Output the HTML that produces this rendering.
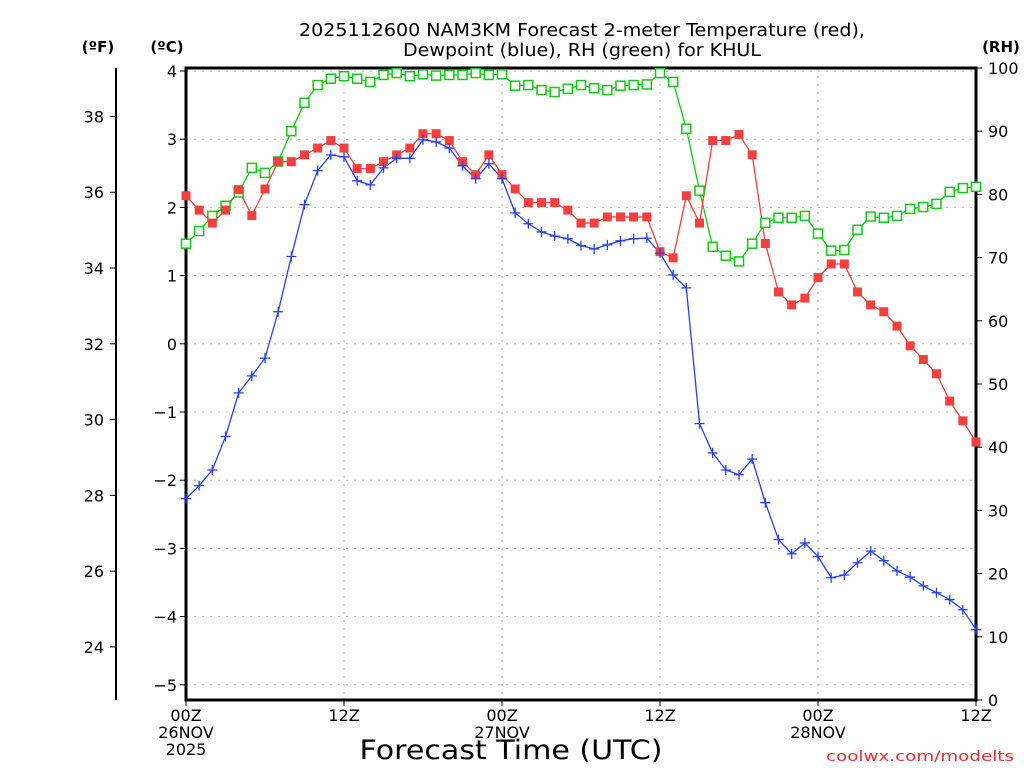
<!DOCTYPE html>
<html><head><meta charset="utf-8"><style>
html,body{margin:0;padding:0;background:#fff}
svg{display:block;font-family:"DejaVu Sans","Liberation Sans",sans-serif}
</style></head><body>
<svg id="chart" width="1024" height="768" viewBox="0 0 1024 768">
<text x="582" y="36" text-anchor="middle" font-size="18" textLength="566" lengthAdjust="spacingAndGlyphs">2025112600 NAM3KM Forecast 2-meter Temperature (red),</text>
<text x="582" y="56" text-anchor="middle" font-size="18" textLength="358" lengthAdjust="spacingAndGlyphs">Dewpoint (blue), RH (green) for KHUL</text>
<text x="98" y="52" text-anchor="middle" font-size="15" font-weight="bold">(ºF)</text>
<text x="167" y="52" text-anchor="middle" font-size="15" font-weight="bold">(ºC)</text>
<text x="1001" y="52" text-anchor="middle" font-size="15" font-weight="bold">(RH)</text>
<g id="grid"></g>
<g id="axes"></g>
<g id="series"></g>
<text x="511" y="759" text-anchor="middle" font-size="27" textLength="303" lengthAdjust="spacingAndGlyphs">Forecast Time (UTC)</text>
<text x="1014" y="761" text-anchor="end" font-size="14" fill="#e83030" textLength="188" lengthAdjust="spacingAndGlyphs">coolwx.com/modelts</text>
</svg>
<script>
const hours=[0,1,2,3,4,5,6,7,8,9,10,11,12,13,14,15,16,17,18,19,20,21,22,23,24,25,26,27,28,29,30,31,32,33,34,35,36,37,38,39,40,41,42,43,44,45,46,47,48,49,50,51,52,53,54,55,56,57,58,59,60];
const tempC=[2.17,1.96,1.77,1.96,2.26,1.88,2.27,2.67,2.67,2.77,2.87,2.98,2.87,2.57,2.57,2.67,2.77,2.87,3.08,3.08,2.98,2.67,2.48,2.77,2.48,2.27,2.07,2.07,2.07,1.96,1.77,1.77,1.86,1.86,1.86,1.86,1.35,1.26,2.17,1.77,2.98,2.98,3.07,2.77,1.47,0.76,0.57,0.67,0.97,1.17,1.17,0.76,0.57,0.47,0.26,-0.03,-0.23,-0.44,-0.84,-1.13,-1.44];
const dewC=[-2.27,-2.08,-1.85,-1.36,-0.72,-0.47,-0.21,0.47,1.28,2.04,2.54,2.77,2.74,2.39,2.33,2.58,2.72,2.72,2.99,2.96,2.87,2.61,2.42,2.64,2.42,1.92,1.76,1.64,1.58,1.54,1.44,1.39,1.45,1.51,1.54,1.55,1.33,1.01,0.82,-1.17,-1.6,-1.85,-1.92,-1.69,-2.33,-2.87,-3.08,-2.92,-3.12,-3.43,-3.39,-3.21,-3.04,-3.18,-3.33,-3.42,-3.55,-3.65,-3.75,-3.9,-4.19];
const rh=[72.2,74.2,76.6,78.2,80.3,84.2,83.4,85.2,90.0,94.5,97.3,98.3,98.7,98.3,97.8,98.9,99.2,98.7,99,98.8,98.9,98.9,99.2,98.9,99,97.2,97.3,96.5,96.2,96.7,97.3,96.8,96.5,97.2,97.3,97.4,99.2,97.8,90.4,80.6,71.7,70.3,69.4,72.2,75.5,76.3,76.3,76.6,73.8,71.1,71.2,74.4,76.5,76.3,76.6,77.7,78,78.5,80.4,81,81.2];
const cTicks=[4,3,2,1,0,-1,-2,-3,-4,-5];
const fTicks=[38,36,34,32,30,28,26,24];
const rhTicks=[100,90,80,70,60,50,40,30,20,10,0];
const xTicks=[0,12,24,36,48,60];
const xLabels=[["00Z","26NOV","2025"],["12Z"],["00Z","27NOV"],["12Z"],["00Z","28NOV"],["12Z"]];

const L=186,R=976,T=68,B=700;
const x=h=>L+(R-L)*h/60;
const yC=c=>71+(4-c)*68.2;
const yF=f=>yC((f-32)*5/9);
const yR=r=>B-(B-T)*r/100;
const NS="http://www.w3.org/2000/svg";
function mk(tag,attrs,parent){const e=document.createElementNS(NS,tag);for(const k in attrs)e.setAttribute(k,attrs[k]);parent.appendChild(e);return e;}
const grid=document.getElementById('grid'),axes=document.getElementById('axes'),ser=document.getElementById('series');

cTicks.forEach(c=>{
 const g=mk('line',{x1:L,x2:R,y1:yC(c),y2:yC(c),stroke:'#b0b0b0','stroke-dasharray':'2,6'},grid);
 
 
 const t=mk('line',{x1:L-6,x2:L,y1:yC(c),y2:yC(c),stroke:'#000'},axes);
 
 
 const tx=mk('text',{x:L-9,y:yC(c)+6,'text-anchor':'end','font-size':'16'},axes);
 tx.textContent=c<0?'\u2212'+(-c):String(c);
 
 
});
xTicks.forEach((h,i)=>{
 if(h>0&&h<60){const g=mk('line',{x1:x(h),x2:x(h),y1:T,y2:B,stroke:'#b0b0b0','stroke-dasharray':'2,6'},grid);
 
 }
 const t=mk('line',{x1:x(h),x2:x(h),y1:B,y2:B+6,stroke:'#000'},axes);
 
 
 xLabels[i].forEach((s,j)=>{const tx=mk('text',{x:x(h),y:B+21+j*17,'text-anchor':'middle','font-size':'16'},axes);tx.textContent=s;
 
 });
});
mk('line',{x1:116,x2:116,y1:T,y2:B,stroke:'#000','stroke-width':2},axes);
fTicks.forEach(f=>{
 const t=mk('line',{x1:110,x2:116,y1:yF(f),y2:yF(f),stroke:'#000'},axes);
 
 
 const tx=mk('text',{x:104,y:yF(f)+6,'text-anchor':'end','font-size':'16'},axes);tx.textContent=f;
 
 
});
rhTicks.forEach(r=>{
 const t=mk('line',{x1:R,x2:R+6,y1:yR(r),y2:yR(r),stroke:'#000'},axes);
 
 
 const tx=mk('text',{x:R+12,y:yR(r)+6,'text-anchor':'start','font-size':'16'},axes);tx.textContent=r;
 
 
});
mk('path',{d:`M${L},${T}V${B}H${R}V${T}Z`,fill:'none',stroke:'#000','stroke-width':3},axes);

function line(vals,fy,color,name){
 const p=mk('polyline',{points:hours.map((h,i)=>x(h)+','+fy(vals[i])).join(' '),fill:'none',stroke:color,'stroke-width':1.3},ser);
 
 
}
line(rh,yR,'#10cc10','rh');
line(tempC,yC,'#f04040','temperature');
line(dewC,yC,'#2840f0','dewpoint');
hours.forEach((h,i)=>{
 const g=mk('rect',{x:x(h)-4.5,y:yR(rh[i])-4.5,width:9,height:9,fill:'#fff',stroke:'#10cc10','stroke-width':1.5},ser);
 
 
 const r=mk('rect',{x:x(h)-4.5,y:yC(tempC[i])-4.5,width:9,height:9,fill:'#f04040'},ser);
 
 
 const b=mk('path',{d:`M${x(h)-5},${yC(dewC[i])}h10M${x(h)},${yC(dewC[i])-5}v10`,stroke:'#2840f0','stroke-width':1.3},ser);
 
 
});
</script>
</body></html>
